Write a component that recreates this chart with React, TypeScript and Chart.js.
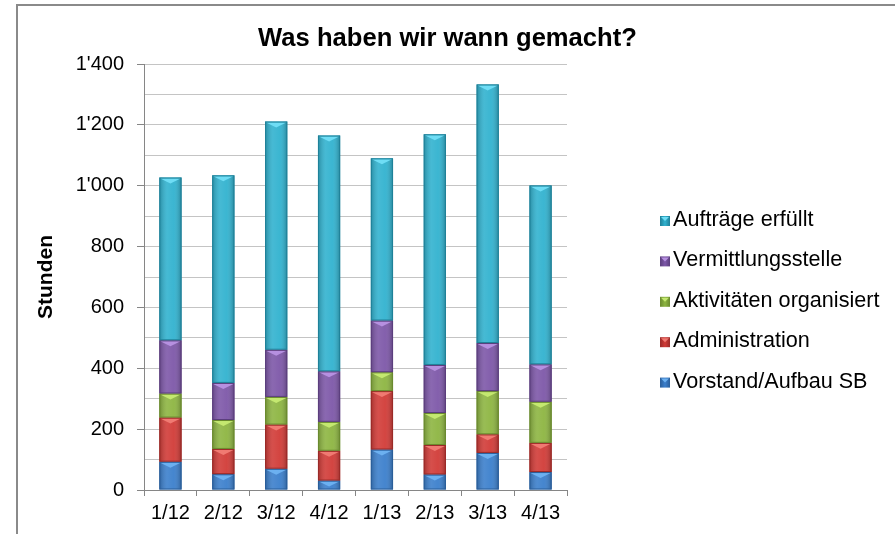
import React, { useEffect, useRef } from "react";
import { Chart, registerables } from "chart.js";

Chart.register(...registerables);

const categories = ["1/12", "2/12", "3/12", "4/12", "1/13", "2/13", "3/13", "4/13"];
const vorstand = [93, 52, 70, 31, 133, 51, 122, 59];
const administration = [145, 83, 145, 98, 192, 97, 61, 96];
const aktivitaeten = [79, 95, 91, 95, 62, 105, 142, 135];
const vermittlung = [175, 122, 155, 166, 170, 158, 158, 123];
const auftraege = [535, 682, 750, 775, 533, 758, 850, 588];

const seriesNames = [
  "Vorstand/Aufbau SB",
  "Administration",
  "Aktivitäten organisiert",
  "Vermittlungsstelle",
  "Aufträge erfüllt",
];
const titleText = "Was haben wir wann gemacht?";
const yTitle = "Stunden";

const FONT = '"Liberation Sans", Arial, sans-serif';

const fills = ["#3B7FCC", "#D13B37", "#8DB541", "#7D57A8", "#31B2CF"];
const borders = ["#2A5E9A", "#9A2A28", "#6A8A2E", "#5B3E7D", "#1F8098"];
const tops = ["#6CB0F0", "#F07A72", "#C4E870", "#B690E0", "#6FDDF5"];

const fmt = (v: number) => {
  const s = String(Math.round(v));
  return s.replace(/\B(?=(\d{3})+(?!\d))/g, "'");
};

const decoPlugin = {
  id: "deco",
  afterDatasetsDraw(chart: any) {
    const ctx = chart.ctx;
    chart.data.datasets.forEach((ds: any, di: number) => {
      const meta = chart.getDatasetMeta(di);
      meta.data.forEach((bar: any) => {
        const { x, y, base, width } = bar.getProps(["x", "y", "base", "width"], true);
        const l = x - width / 2;
        const r = x + width / 2;
        const t = Math.min(y, base);
        const b = Math.max(y, base);
        const g = ctx.createLinearGradient(l, 0, r, 0);
        g.addColorStop(0, "rgba(0,0,0,0.22)");
        g.addColorStop(0.35, "rgba(255,255,255,0.10)");
        g.addColorStop(0.65, "rgba(255,255,255,0.05)");
        g.addColorStop(1, "rgba(0,0,0,0.25)");
        ctx.save();
        ctx.fillStyle = g;
        ctx.fillRect(l, t, width, b - t);
        ctx.fillStyle = tops[di];
        ctx.beginPath();
        ctx.moveTo(l + 1, t + 1);
        ctx.lineTo(r - 1, t + 1);
        ctx.lineTo(x, t + 6);
        ctx.closePath();
        ctx.fill();
        ctx.strokeStyle = borders[di];
        ctx.lineWidth = 1;
        ctx.strokeRect(l + 0.5, t + 0.5, width - 1, b - t - 1);
        ctx.restore();
      });
    });
  },
  afterDraw(chart: any) {
    const ctx = chart.ctx;
    ctx.save();
    ctx.fillStyle = "#000";
    ctx.font = `bold 25.6px ${FONT}`;
    ctx.textAlign = "center";
    ctx.textBaseline = "middle";
    ctx.fillText(titleText, 447.5, 39);
    ctx.font = `21.6px ${FONT}`;
    ctx.textAlign = "left";
    const n = chart.data.datasets.length;
    const sx = 660;
    for (let k = 0; k < n; k++) {
      const di = n - 1 - k;
      const ds = chart.data.datasets[di];
      const cy = 220 + k * 40.4;
      const g = ctx.createLinearGradient(sx, 0, sx + 10, 0);
      g.addColorStop(0, borders[di]);
      g.addColorStop(0.5, fills[di]);
      g.addColorStop(1, borders[di]);
      ctx.fillStyle = g;
      ctx.fillRect(sx, cy - 4, 10, 10);
      ctx.fillStyle = tops[di];
      ctx.beginPath();
      ctx.moveTo(sx + 1, cy - 3);
      ctx.lineTo(sx + 9, cy - 3);
      ctx.lineTo(sx + 5, cy + 1);
      ctx.closePath();
      ctx.fill();
      ctx.fillStyle = "#000";
      ctx.fillText(ds.label, sx + 13, cy);
    }
    ctx.restore();
  },
};

export default function App() {
  const ref = useRef<HTMLCanvasElement | null>(null);
  useEffect(() => {
    if (!ref.current) return;
    const values = [vorstand, administration, aktivitaeten, vermittlung, auftraege];
    const chart = new Chart(ref.current, {
      type: "bar",
      data: {
        labels: categories,
        datasets: values.map((v, i) => ({
          label: seriesNames[i],
          data: v,
          backgroundColor: fills[i],
          borderWidth: 0,
          barPercentage: 0.42,
          categoryPercentage: 1,
        })),
      },
      options: {
        responsive: false,
        animation: false,
        layout: { padding: { top: 64, right: 328, left: 0, bottom: 0 } },
        plugins: {
          legend: { display: false },
          title: { display: false },
          tooltip: { enabled: false },
        },
        scales: {
          x: {
            stacked: true,
            afterFit: (s: any) => {
              s.height = 44;
            },
            grid: {
              offset: true,
              drawOnChartArea: false,
              tickLength: 6,
              color: "#868686",
            },
            border: { color: "#868686" },
            ticks: {
              color: "#000",
              font: { family: FONT, size: 20 },
              padding: 5,
              maxRotation: 0,
              autoSkip: false,
            },
          },
          y: {
            stacked: true,
            min: 0,
            max: 1400,
            afterFit: (s: any) => {
              s.width = 144;
            },
            grid: {
              color: "#C4C4C4",
              tickLength: 7,
              tickColor: (c: any) => (c.tick && c.tick.value % 200 === 0 ? "#868686" : "rgba(0,0,0,0)"),
            },
            border: { color: "#868686" },
            ticks: {
              stepSize: 100,
              autoSkip: false,
              color: "#000",
              font: { family: FONT, size: 20 },
              padding: 13,
              callback: (v: any) => (Number(v) % 200 === 0 ? fmt(Number(v)) : ""),
            },
            title: {
              display: true,
              text: yTitle,
              color: "#000",
              font: { family: FONT, size: 21, weight: "bold" },
              padding: { top: 34, bottom: 0 },
            },
          },
        },
      },
      plugins: [decoPlugin],
    });
    return () => chart.destroy();
  }, []);

  return (
    <div style={{ position: "fixed", left: 0, top: 0, width: 895, height: 534, background: "#fff", overflow: "hidden" }}>
      <div
        style={{
          position: "absolute",
          left: 16,
          top: 4,
          width: 900,
          height: 600,
          borderLeft: "2px solid #8a8a8a",
          borderTop: "2px solid #8a8a8a",
        }}
      />
      <canvas ref={ref} width={895} height={534} style={{ position: "absolute", left: 0, top: 0 }} />
    </div>
  );
}
